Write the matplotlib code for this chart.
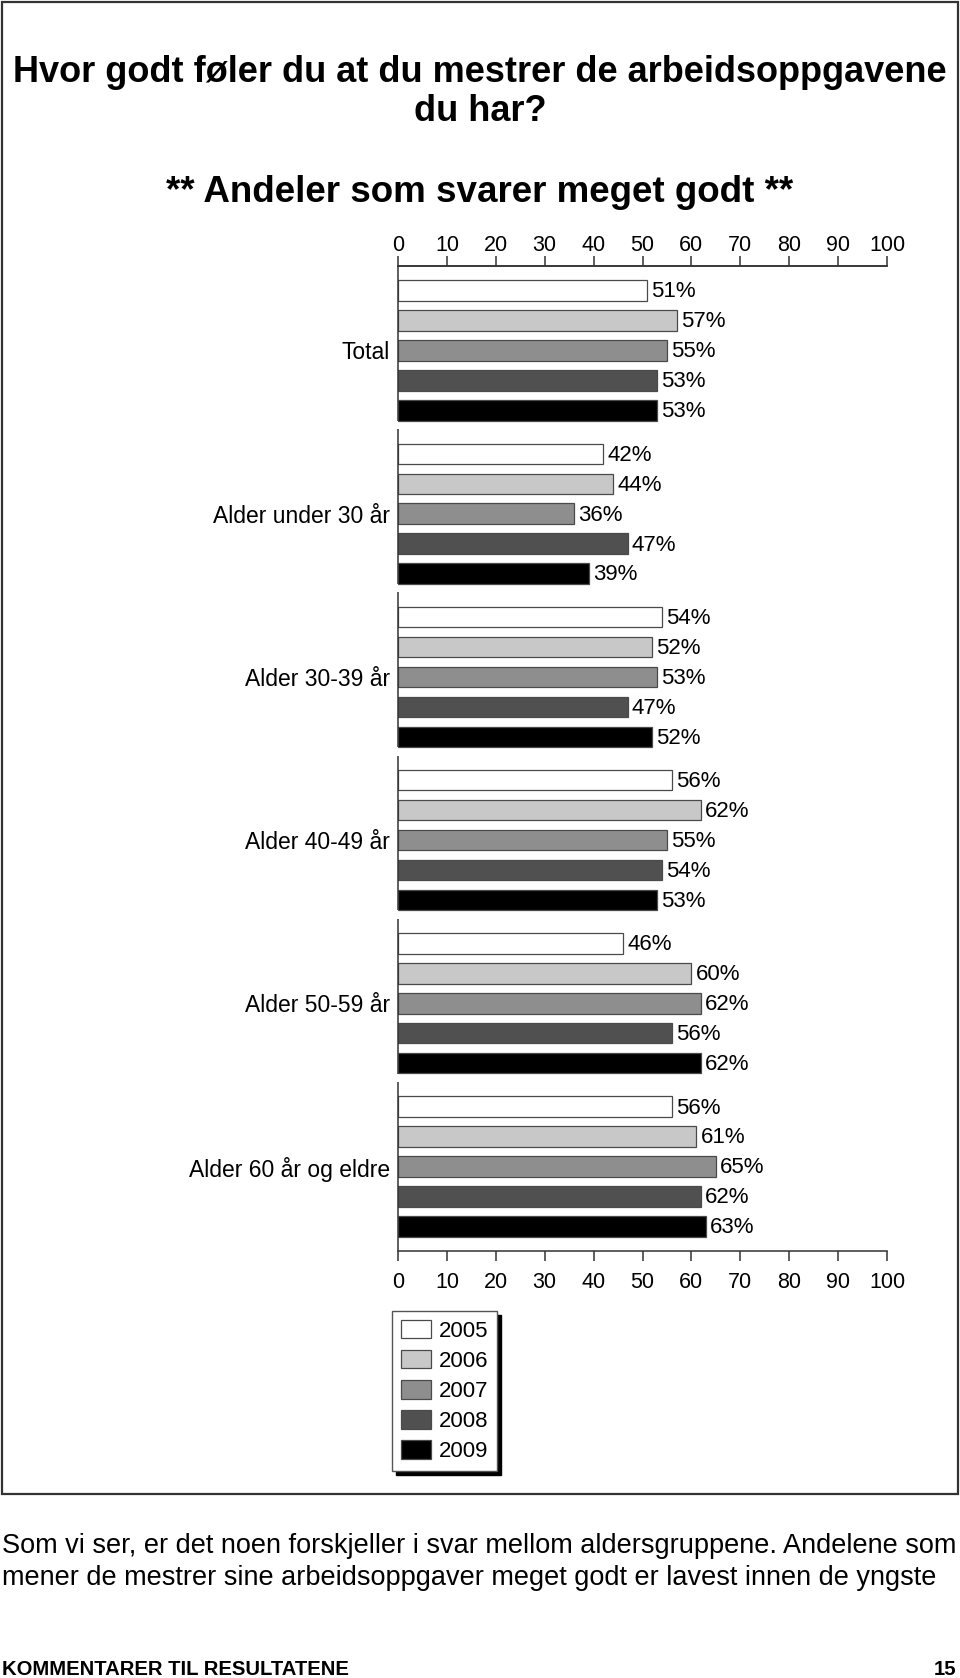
import matplotlib
matplotlib.use("Agg")
import matplotlib.pyplot as plt
from matplotlib.patches import Rectangle

plt.rcParams['font.family'] = ['Liberation Sans', 'DejaVu Sans']

groups = ["Total", "Alder under 30 år", "Alder 30-39 år", "Alder 40-49 år",
          "Alder 50-59 år", "Alder 60 år og eldre"]
years = ["2005", "2006", "2007", "2008", "2009"]
colors = ["#ffffff", "#c8c8c8", "#8e8e8e", "#505050", "#000000"]

v2005 = [51, 42, 54, 56, 46, 56]
v2006 = [57, 44, 52, 62, 60, 61]
v2007 = [55, 36, 53, 55, 62, 65]
v2008 = [53, 47, 47, 54, 56, 62]
v2009 = [53, 39, 52, 53, 62, 63]
series = [v2005, v2006, v2007, v2008, v2009]

ticks = [0, 10, 20, 30, 40, 50, 60, 70, 80, 90, 100]

W, H = 960, 1678
GROUP_STEP = 5.45
BAR_H = 0.68


def fx(x):
    return x / W


def fy(y):
    return 1 - y / H


fig = plt.figure(figsize=(W / 100, H / 100), dpi=100)

# frame around chart
fig.add_artist(Rectangle((fx(2), fy(1494)), fx(956), 1492 / H, transform=fig.transFigure,
                         fill=False, lw=1.6, ec="#333333"))

fig.text(fx(480), fy(72), "Hvor godt føler du at du mestrer de arbeidsoppgavene",
         ha="center", va="center", fontsize=26, fontweight="bold")
fig.text(fx(480), fy(111.5), "du har?", ha="center", va="center", fontsize=26, fontweight="bold")
fig.text(fx(480), fy(192.5), "** Andeler som svarer meget godt **",
         ha="center", va="center", fontsize=26.5, fontweight="bold")

ax = fig.add_axes([fx(398), fy(1251), (887 - 398) / W, (1251 - 266) / H])

centers = [g * GROUP_STEP for g in range(len(groups))]
bars = []
for i, vals in enumerate(series):
    pos = [c + (i - 2) for c in centers]
    b = ax.barh(pos, vals, height=BAR_H, color=colors[i], edgecolor="#4a4a4a",
                linewidth=0.9, label=years[i])
    bars.append(b)
    for p, v in zip(pos, vals):
        ax.annotate(f"{v}%", (v, p), xytext=(3, -1), textcoords="offset points",
                    va="center", ha="left", fontsize=16)

ax.set_xlim(0, 100)
ax.set_ylim(centers[-1] + 2.82, -2.82)
ax.set_xticks(ticks)
ax.tick_params(axis="x", top=False, labeltop=False, bottom=True, labelbottom=True,
               direction="out", length=7, width=1.1, color="#333333", labelsize=15.5, pad=8)

top = ax.secondary_xaxis("top")
top.set_xticks(ticks)
top.tick_params(axis="x", direction="out", length=7, width=1.1, color="#333333",
                labelsize=15.5, pad=0.5)
top.spines["top"].set_linewidth(1.1)
top.spines["top"].set_color("#333333")

ax.set_yticks(centers)
ax.set_yticklabels(groups, fontsize=16.5)
ax.tick_params(axis="y", length=0, pad=6)

for s in ["left", "right"]:
    ax.spines[s].set_visible(False)
for s in ["top", "bottom"]:
    ax.spines[s].set_linewidth(1.1)
    ax.spines[s].set_color("#333333")

# left axis segments, one per group
for g, c in enumerate(centers):
    y0 = c - 2.82
    y1 = c + 2.35 if g < len(centers) - 1 else c + 2.82
    ax.vlines(0, y0, y1, colors="#333333", linewidth=1.1, clip_on=False)

ax.legend(handles=bars, loc="upper left", bbox_to_anchor=(fx(392), fy(1311)),
          bbox_transform=fig.transFigure, fontsize=16, frameon=True, fancybox=False,
          edgecolor="#555555", framealpha=1,
          shadow={"color": "black", "alpha": 1, "ox": 3, "oy": -3},
          borderaxespad=0, borderpad=0.4, handlelength=1.35, handleheight=0.9,
          handletextpad=0.35, labelspacing=0.37)

fig.text(fx(2), fy(1546), "Som vi ser, er det noen forskjeller i svar mellom aldersgruppene. Andelene som",
         ha="left", va="center", fontsize=19.5)
fig.text(fx(2), fy(1578), "mener de mestrer sine arbeidsoppgaver meget godt er lavest innen de yngste",
         ha="left", va="center", fontsize=19.5)

fig.text(fx(2), fy(1675), "KOMMENTARER TIL RESULTATENE", ha="left", va="baseline",
         fontsize=14.6, fontweight="bold")
fig.text(fx(956), fy(1675), "15", ha="right", va="baseline", fontsize=14.6, fontweight="bold")

fig.savefig("out.png", dpi=100)
